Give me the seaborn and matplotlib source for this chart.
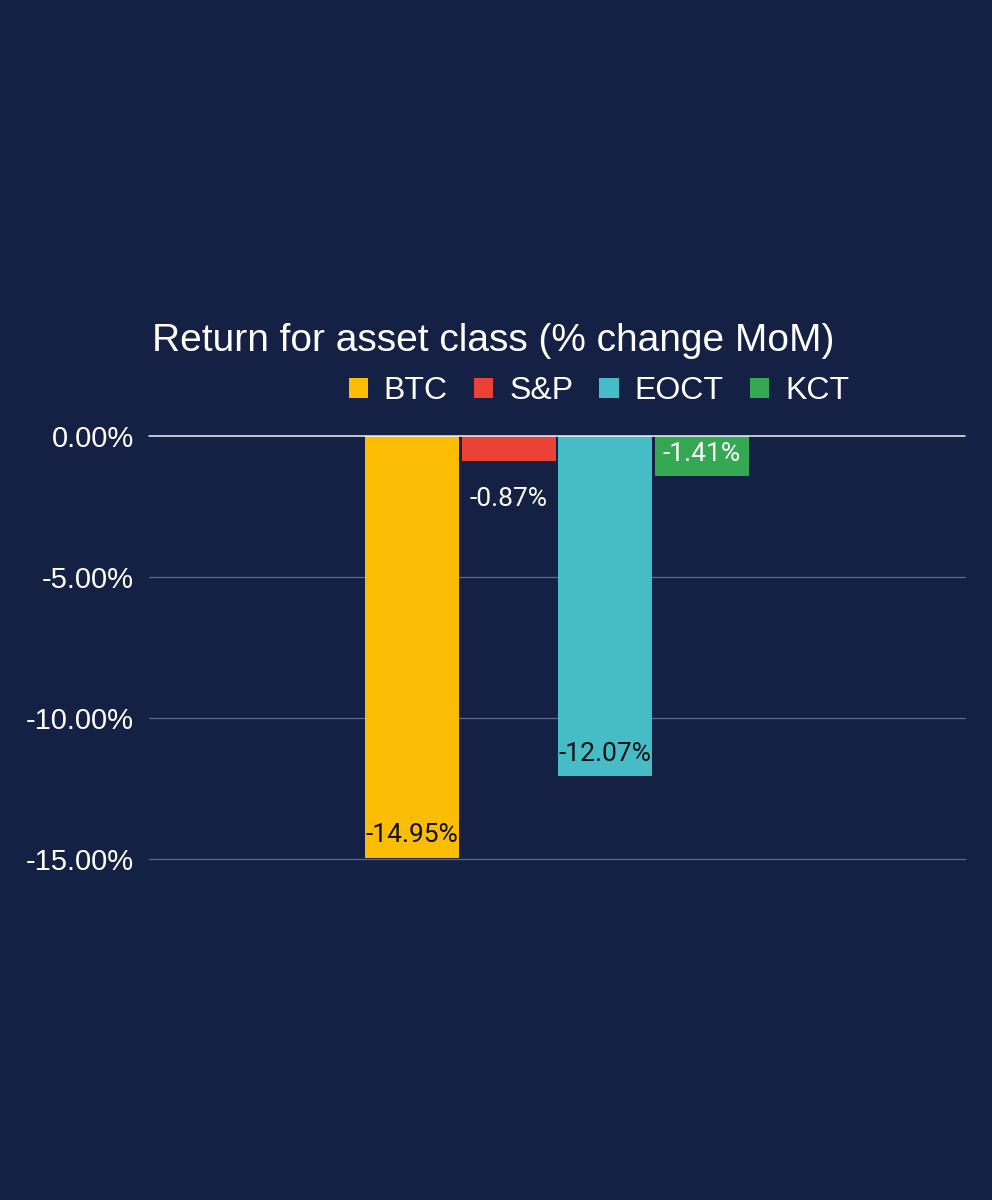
import matplotlib
matplotlib.use("Agg")
import matplotlib.pyplot as plt
import seaborn as sns
import pandas as pd
from matplotlib.patches import Patch

# Data
categories = ["Return"]
series = ["BTC", "S&P", "EOCT", "KCT"]
values = [-14.95, -0.87, -12.07, -1.41]
colors = ["#FBBC04", "#EA4335", "#46BDC6", "#34A853"]
label_colors = ["#111111", "#FFFFFF", "#111111", "#FFFFFF"]
yticks = [0, -5, -10, -15]

BG = "#142145"

df = pd.DataFrame({"cat": categories * len(series), "series": series, "value": values})

sns.set_theme(style="dark")
plt.rcParams["font.family"] = ["Liberation Sans", "DejaVu Sans"]

fig = plt.figure(figsize=(9.92, 12), dpi=100, facecolor=BG)
ax = fig.add_axes([149/992, 1-859/1200, (965-149)/992, (859-436)/1200])
ax.set_facecolor(BG)

sns.barplot(data=df, x="cat", y="value", hue="series", hue_order=series,
            palette=colors, width=0.474, gap=0.03, saturation=1,
            ax=ax, legend=False, edgecolor="none")

ax.set_ylim(-15, 0)
ax.set_xlim(-0.5, 0.5)
ax.set_yticks(yticks)
ax.set_yticklabels([f"{v:.2f}%" for v in yticks], color="white", fontsize=21)
ax.tick_params(axis="y", length=0, pad=11)
ax.set_xticks([])
ax.set_xlabel("")
ax.set_ylabel("")
for s in ax.spines.values():
    s.set_visible(False)
ax.grid(False)
for v in yticks:
    if v == 0:
        ax.axhline(v, color="#F2F4FA", lw=1.1, zorder=3, clip_on=False)
    else:
        ax.axhline(v, color="#5F6889", lw=0.9, zorder=0, clip_on=False)

for i, cont in enumerate(ax.containers):
    val = values[i]
    bar = cont.patches[0]
    xc = bar.get_x() + bar.get_width() / 2
    if abs(val) < 1.0:
        off = -28
    else:
        off = 16
    ax.annotate(f"{val:.2f}%", xy=(xc, val), xytext=(0, off), textcoords="offset points",
                ha="center", va="center", color=label_colors[i], fontsize=19,
                family=["Roboto", "DejaVu Sans"], zorder=5)

fig.text(152/992, 1-341/1200, "Return for asset class (% change MoM)", color="white",
         fontsize=28, ha="left", va="center")

handles = [Patch(facecolor=c, edgecolor="none") for c in colors]
leg = fig.legend(handles, series, loc="center right", bbox_to_anchor=(865/992, 1-391/1200),
                 ncol=4, frameon=False, fontsize=23, labelcolor="white",
                 handlelength=0.6, handleheight=0.6, handletextpad=0.5, columnspacing=0.82,
                 borderpad=0)

fig.savefig("out.png", dpi=100, facecolor=BG)
